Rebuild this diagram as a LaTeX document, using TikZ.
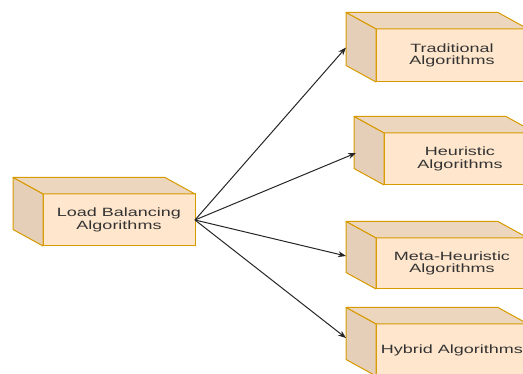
\documentclass[tikz,border=0pt]{standalone}
\usepackage{fontspec}
\setmainfont{Liberation Sans}[FakeStretch=1.5]
\usetikzlibrary{calc,arrows.meta}

\definecolor{cubefill}{HTML}{FFE6CC}
\definecolor{cubeline}{HTML}{D79B00}
\definecolor{cubetext}{HTML}{333333}

% top and left faces of a cube whose front face is node #1
\newcommand{\cubefaces}[1]{
	\filldraw[cubeline, fill=cubefill!93!black, line width=1pt, line join=round] (#1.north west) -- ++(-30,16.5) -- ($(#1.north east)+(-30,16.5)$) -- (#1.north east) -- cycle;
	\filldraw[cubeline, fill=cubefill!90!black, line width=1pt, line join=round] (#1.north west) -- ++(-30,16.5) -- ($(#1.south west)+(-30,16.5)$) -- (#1.south west) -- cycle;
}

\begin{document}
\begin{tikzpicture}[x=1pt,y=1pt,every node/.style={align=center},cubefront/.style={draw=cubeline, fill=cubefill, line width=1pt, minimum width=152pt, minimum height=52pt, outer sep=0pt, inner sep=0pt, text=cubetext, font=\fontsize{12pt}{12.7pt}\selectfont}, link/.style={-{Stealth[length=8pt,width=6pt]}, line width=1pt, draw=black!85}]
	\useasboundingbox (0,0) rectangle (523,374);
	\node[cubefront] (lba) at (119,154) {Load Balancing\\Algorithms};
	\node[cubefront, minimum height=53pt] (trad) at (452,318.5) {Traditional\\Algorithms};
	\node[cubefront] (heur) at (460,215) {Heuristic\\Algorithms};
	\node[cubefront, minimum height=51pt] (meta) at (452,110.5) {Meta-Heuristic\\Algorithms};
	\node[cubefront] (hyb) at (452,24) {Hybrid Algorithms};
	\cubefaces{lba} \cubefaces{trad} \cubefaces{heur} \cubefaces{meta} \cubefaces{hyb}
	% arrows end on the back edge of each cube
	\coordinate (tradin) at ($(trad.west)+(-30,8)$);
	\coordinate (heurin) at ($(heur.west)+(-28,6)$);
	\coordinate (metain) at ($(meta.west)+(-30,7.5)$);
	\coordinate (hybin) at ($(hyb.west)+(-30,12)$);
	\draw[link] (lba.east) -- (tradin);
	\draw[link] (lba.east) -- (heurin);
	\draw[link] (lba.east) -- (metain);
	\draw[link] (lba.east) -- (hybin);
\end{tikzpicture}
\end{document}
